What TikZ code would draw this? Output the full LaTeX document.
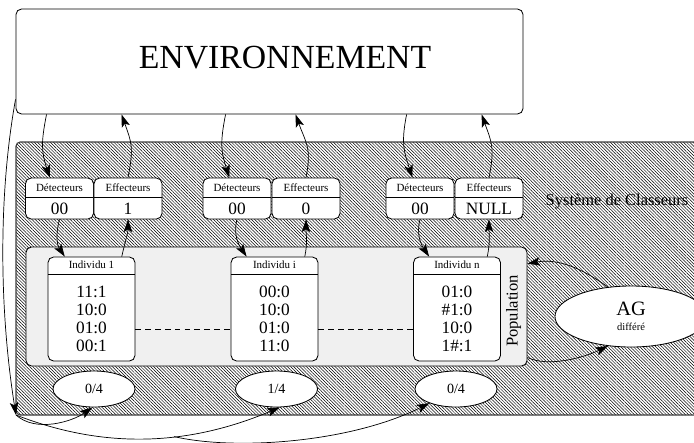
\documentclass[tikz,border=0pt]{standalone}
\usepackage{fontspec}
\setmainfont{Liberation Serif}
\usetikzlibrary{arrows.meta,patterns.meta,shapes.geometric}

\begin{document}
\begin{tikzpicture}[x=0.025cm, y=-0.025cm,
    arr/.style={-{Stealth[length=9pt,width=6pt,inset=2pt]}, line width=0.5pt},
    cbox/.style={draw, fill=white, rounded corners=4pt, line width=0.6pt,
        minimum width=1.7cm, minimum height=1.025cm, inner sep=0pt,
        path picture={\draw[line width=0.6pt] ([yshift=-0.475cm]path picture bounding box.north west)
            -- ([yshift=-0.475cm]path picture bounding box.north east);}},
    ibox/.style={draw, fill=white, rounded corners=4pt, line width=0.6pt,
        minimum width=2.175cm, minimum height=2.6cm, inner sep=0pt,
        path picture={\draw[line width=0.6pt] ([yshift=-0.425cm]path picture bounding box.north west)
            -- ([yshift=-0.425cm]path picture bounding box.north east);}},
    hdr/.style={font=\fontsize{7.8}{9}\selectfont, inner sep=0pt},
    val/.style={font=\fontsize{12.3}{12.8}\selectfont, inner sep=0pt, align=center},
    score/.style={draw, fill=white, ellipse, line width=0.6pt, minimum width=2.05cm,
        minimum height=0.9cm, inner sep=0pt, font=\fontsize{10}{12}\selectfont}]

    \useasboundingbox (0,0) rectangle (694,442);

    % Hatched classifier system
    \draw[gray!50!black, line width=0.8pt, rounded corners=3pt,
        pattern={Lines[angle=-45,distance=1.6pt,line width=0.35pt]}] (16,142) rectangle (720,415);
    \coordinate (corner) at (16,415);
    \node[font=\fontsize{11.7}{14}\selectfont] (sys) at (617,202) {Système de Classeurs};

    % Environment
    \node[draw, fill=white, rounded corners=4pt, line width=0.6pt, minimum width=12.675cm,
        minimum height=2.625cm] (env) at (269.5,61.5) {};
    \node[font=\fontsize{24}{28}\selectfont] (envtext) at (285,58) {ENVIRONNEMENT};

    % Population
    \node[draw, fill=gray!12, rounded corners=4pt, line width=0.6pt, minimum width=12.525cm,
        minimum height=2.975cm] (pop) at (276.5,306.5) {};
    \node[rotate=90, font=\fontsize{11.8}{14}\selectfont] (poplabel) at (513.5,311) {Population};

    % Detectors and effectors
    \node[cbox] (det1) at (59.5,198.5) {};
    \node[hdr] (det1h) at ([yshift=-0.25cm]det1.north) {Détecteurs};
    \node[val] (det1v) at ([yshift=0.26cm]det1.south) {00};
    \node[cbox] (eff1) at (128,198.5) {};
    \node[hdr] (eff1h) at ([yshift=-0.25cm]eff1.north) {Effecteurs};
    \node[val] (eff1v) at ([yshift=0.26cm]eff1.south) {1};

    \node[cbox] (det2) at (237,198.5) {};
    \node[hdr] (det2h) at ([yshift=-0.25cm]det2.north) {Détecteurs};
    \node[val] (det2v) at ([yshift=0.26cm]det2.south) {00};
    \node[cbox] (eff2) at (306,198.5) {};
    \node[hdr] (eff2h) at ([yshift=-0.25cm]eff2.north) {Effecteurs};
    \node[val] (eff2v) at ([yshift=0.26cm]eff2.south) {0};

    \node[cbox] (det3) at (420,198.5) {};
    \node[hdr] (det3h) at ([yshift=-0.25cm]det3.north) {Détecteurs};
    \node[val] (det3v) at ([yshift=0.26cm]det3.south) {00};
    \node[cbox] (eff3) at (489,198.5) {};
    \node[hdr] (eff3h) at ([yshift=-0.25cm]eff3.north) {Effecteurs};
    \node[val] (eff3v) at ([yshift=0.26cm]eff3.south) {NULL};

    % Individuals
    \node[ibox] (ind1) at (91.5,309) {};
    \node[hdr] (ind1h) at ([yshift=-0.21cm]ind1.north) {Individu 1};
    \node[val] (ind1v) at ([yshift=-0.25cm]ind1.center) {11:1\\10:0\\01:0\\00:1};
    \node[ibox] (ind2) at (274.5,309) {};
    \node[hdr] (ind2h) at ([yshift=-0.21cm]ind2.north) {Individu i};
    \node[val] (ind2v) at ([yshift=-0.25cm]ind2.center) {00:0\\10:0\\01:0\\11:0};
    \node[ibox] (ind3) at (457,309) {};
    \node[hdr] (ind3h) at ([yshift=-0.21cm]ind3.north) {Individu n};
    \node[val] (ind3v) at ([yshift=-0.25cm]ind3.center) {01:0\\\#1:0\\10:0\\1\#:1};

    \draw[dashed, dash pattern=on 4pt off 3pt, line width=0.5pt] ([yshift=-0.5cm]ind1.east) -- ([yshift=-0.5cm]ind2.west);
    \draw[dashed, dash pattern=on 4pt off 3pt, line width=0.5pt] ([yshift=-0.5cm]ind2.east) -- ([yshift=-0.5cm]ind3.west);

    % Rewards
    \node[score] (s1) at (94,389) {0/4};
    \node[score] (s2) at (276.5,389) {1/4};
    \node[score] (s3) at (456,389) {0/4};

    % Genetic algorithm
    \node[draw, fill=white, ellipse, line width=0.6pt, minimum width=3.8cm, minimum height=1.525cm,
        inner sep=0pt, align=center, font=\fontsize{14.5}{15}\selectfont] (ag) at (631,316.5)
        {AG\\[-4pt]{\fontsize{7.5}{8}\selectfont différé}};

    % Environment <-> detectors and effectors
    \draw[arr] ([xshift=0.775cm]env.south west) .. controls +(-6,30) and +(-8,-25) .. (det1.115);
    \draw[arr] (eff1.north) .. controls +(6,-30) and +(10,28) .. ([xshift=2.65cm]env.south west);
    \draw[arr] ([xshift=5.25cm]env.south west) .. controls +(-6,30) and +(-8,-25) .. (det2.110);
    \draw[arr] (eff2.north) .. controls +(6,-30) and +(10,28) .. ([xshift=7cm]env.south west);
    \draw[arr] ([xshift=9.775cm]env.south west) .. controls +(-6,30) and +(-8,-25) .. (det3.110);
    \draw[arr] (eff3.north) .. controls +(6,-30) and +(10,28) .. ([xshift=11.65cm]env.south west);

    % Detectors and effectors <-> individuals
    \draw[arr] (det1.south) .. controls +(-4,15) and +(-8,-12) .. (ind1.117);
    \draw[arr] (ind1.60) .. controls +(3,-14) and +(0,14) .. (eff1.south);
    \draw[arr] (det2.south) .. controls +(-4,15) and +(-8,-12) .. (ind2.118);
    \draw[arr] (ind2.60) .. controls +(3,-14) and +(0,14) .. (eff2.south);
    \draw[arr] (det3.south) .. controls +(-4,15) and +(-8,-12) .. (ind3.118);
    \draw[arr] (ind3.60) .. controls +(3,-14) and +(0,14) .. (eff3.south);

    % Population <-> AG
    \draw[arr] (ag.128) .. controls +(-20,-14) and +(35,-6) .. ([yshift=-0.425cm]pop.north east);
    \draw[arr] ([yshift=0.225cm]pop.south east) .. controls +(20,10) and +(-25,12) .. (ag.232);

    % Reward distribution
    \draw[arr] ([yshift=0.375cm]env.south west) .. controls +(-18,100) and +(-16,-100) .. (corner);
    \draw[arr] (corner) .. controls +(20,18) and +(-20,14) .. (s1.-95);
    \draw[arr] (corner) .. controls +(90,35) and +(-90,38) .. (s2.-80) coordinate[pos=0.6] (split);
    \draw[arr] (split) .. controls +(60,14) and +(-80,40) .. (s3.208);

\end{tikzpicture}
\end{document}
